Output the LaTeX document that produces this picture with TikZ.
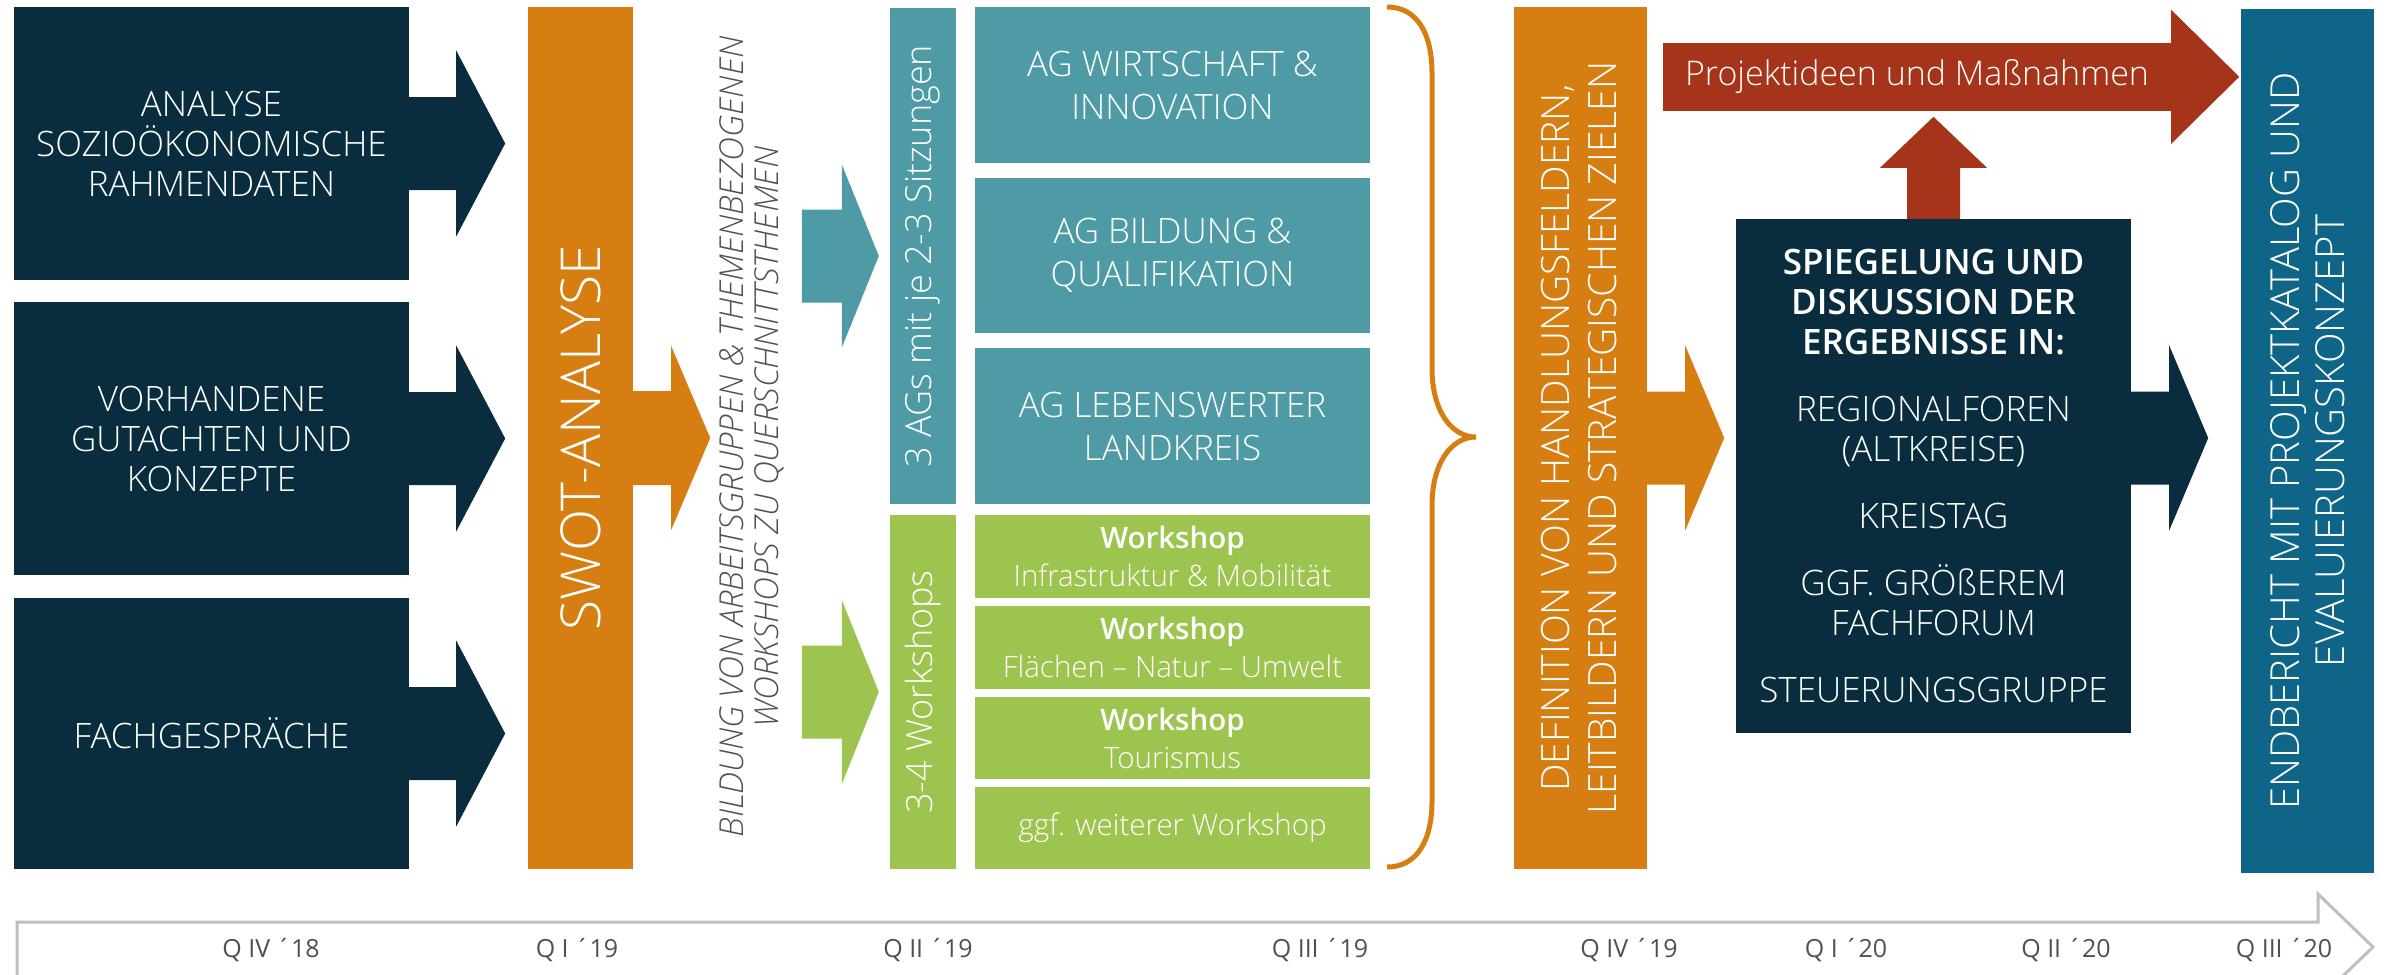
\documentclass[tikz,border=0pt]{standalone}
\usepackage{fontspec}
\setmainfont{Open Sans Light}[BoldFont={Open Sans Semibold}, ItalicFont={Open Sans Light Italic}]
\newfontfamily\qfont{Open Sans}
\usetikzlibrary{calc}

\definecolor{navy}{RGB}{9,44,62}
\definecolor{amber}{RGB}{214,126,17}
\definecolor{agteal}{RGB}{78,155,166}
\definecolor{wsgreen}{RGB}{157,196,79}
\definecolor{brick}{RGB}{165,52,26}
\definecolor{deepblue}{RGB}{14,101,135}
\definecolor{linegray}{RGB}{191,191,191}
\definecolor{textgray}{RGB}{80,80,80}

\newcommand{\fs}[2]{\fontsize{#1}{#2}\selectfont}
% colour, start, shaft length, head length, half shaft, half head
\newcommand{\blockarrow}[6]{\fill[#1] (#2) ++(0,-#5) -- ++(#3,0) -- ++(0,{#5-#6}) -- ++(#4,#6) -- ++(-#4,#6) -- ++(0,{#5-#6}) -- ++(-#3,0) -- cycle;}

\tikzstyle{navybox} = [fill=navy, text=white, align=center, minimum width=395, font=\fs{35}{40}]
\tikzstyle{agbox} = [fill=agteal, text=white, align=center, minimum width=395, font=\fs{35}{43}]
\tikzstyle{wsbox} = [fill=wsgreen, text=white, align=center, minimum width=395, font=\fs{29.5}{38}]
\tikzstyle{barlabel} = [rotate=90, text=white, align=center]
\tikzstyle{quarter} = [text=textgray, font=\qfont\fs{25}{30}]

\begin{document}
\begin{tikzpicture}[x=1pt,y=-1pt]
        \useasboundingbox (0,0) rectangle (2384,974);
        \clip (0,0) rectangle (2384,974);

        %input boxes
        \node at (211.5,143.5) [navybox, minimum height=273] (analyse) {ANALYSE\\SOZIOÖKONOMISCHE\\RAHMENDATEN};
        \node at (211.5,438.5) [navybox, minimum height=273] (gutachten) {VORHANDENE\\GUTACHTEN UND\\KONZEPTE};
        \node at (211.5,733.5) [navybox, minimum height=271] (gespraeche) {FACHGESPRÄCHE};

        \blockarrow{navy}{analyse.east}{47}{49}{46.5}{93}
        \blockarrow{navy}{gutachten.east}{47}{49}{46.5}{93}
        \blockarrow{navy}{gespraeche.east}{47}{49}{46.5}{93}

        %swot
        \node at (580.5,438) [fill=amber, minimum width=105, minimum height=862] (swot) {};
        \node at (swot) [barlabel, font=\fs{55}{60}] (swottext) {SWOT-ANALYSE};
        \blockarrow{amber}{swot.east}{38}{39}{47}{92}

        \node at (752,437) [rotate=90, align=center, text=textgray, font=\itshape\fs{33}{35}] (bildung) {BILDUNG VON ARBEITSGRUPPEN \& THEMENBEZOGENEN\\WORKSHOPS ZU QUERSCHNITTSTHEMEN};

        %working groups
        \node at (923,256) [fill=agteal, minimum width=66, minimum height=496] (agbar) {};
        \node at (agbar) [barlabel, font=\fs{36}{40}] (agtext) {3 AGs mit je 2-3 Sitzungen};
        \coordinate (agin) at ($(agbar.west)+(-88,0)$);
        \blockarrow{agteal}{agin}{40}{37}{46.5}{91.5}

        \node at (1172.5,85) [agbox, minimum height=156] (ag1) {AG WIRTSCHAFT \&\\INNOVATION};
        \node at (1172.5,255.5) [agbox, minimum height=155] (ag2) {AG BILDUNG \&\\QUALIFIKATION};
        \node at (1172.5,426) [agbox, minimum height=156] (ag3) {AG LEBENSWERTER\\LANDKREIS};

        %workshops
        \node at (923,692) [fill=wsgreen, minimum width=66, minimum height=354] (wsbar) {};
        \node at (wsbar) [barlabel, font=\fs{36}{40}] (wstext) {3-4 Workshops};
        \coordinate (wsin) at ($(wsbar.west)+(-88,0)$);
        \blockarrow{wsgreen}{wsin}{40}{37}{46.5}{92}

        \node at (1172.5,556.5) [wsbox, minimum height=83] (ws1) {\textbf{Workshop}\\Infrastruktur \& Mobilität};
        \node at (1172.5,647.5) [wsbox, minimum height=83] (ws2) {\textbf{Workshop}\\Flächen – Natur – Umwelt};
        \node at (1172.5,738) [wsbox, minimum height=82] (ws3) {\textbf{Workshop}\\Tourismus};
        \node at (1172.5,828) [wsbox, minimum height=82] (ws4) {ggf. weiterer Workshop};

        %brace
        \draw[amber, line width=5] (1387,7) .. controls (1418,7) and (1432,35) .. (1432,73) -- (1432,368) .. controls (1432,412) and (1452,437) .. (1476,437) .. controls (1452,437) and (1432,462) .. (1432,506) -- (1432,801) .. controls (1432,839) and (1418,867) .. (1387,867);

        %definition
        \node at (1580.5,438) [fill=amber, minimum width=133, minimum height=862] (definition) {};
        \node at (1579,438) [barlabel, font=\fs{39}{47}] (deftext) {DEFINITION VON HANDLUNGSFELDERN,\\LEITBILDERN UND STRATEGISCHEN ZIELEN};
        \blockarrow{amber}{definition.east}{38}{39}{46.5}{92.5}

        %results
        \node at (1933.5,476) [navybox, minimum height=514] (spiegelung) {\textbf{SPIEGELUNG UND}\\\textbf{DISKUSSION DER}\\\textbf{ERGEBNISSE IN:}\\[27pt]REGIONALFOREN\\(ALTKREISE)\\[27pt]KREISTAG\\[27pt]GGF. GRÖßEREM\\FACHFORUM\\[27pt]STEUERUNGSGRUPPE};
        \blockarrow{navy}{spiegelung.east |- definition.east}{38}{39}{46.5}{92.5}

        \node at (1917,77) [fill=brick, text=white, minimum width=508, minimum height=68, font=\fs{34}{38}] (ideen) {Projektideen und Maßnahmen};
        \fill[brick] (ideen.north east) -- ++(0,-33) -- ++(68,67) -- ++(-68,67) -- ++(0,-33) -- cycle;
        \fill[brick] (spiegelung.north) ++(-26.5,0) -- ++(0,-51) -- ++(-27,0) -- ++(53.5,-51) -- ++(53.5,51) -- ++(-27,0) -- ++(0,51) -- cycle;

        %final report
        \node at (2307.5,441) [fill=deepblue, minimum width=133, minimum height=864] (endbericht) {};
        \node at (endbericht) [barlabel, font=\fs{40}{45}] (endtext) {ENDBERICHT MIT PROJEKTKATALOG UND\\EVALUIERUNGSKONZEPT};

        %timeline
        \draw[linegray, line width=3] (17,990) -- (17,922) -- (2318,922) -- (2318,894) -- (2373,947) -- (2318,1000);
        \foreach \x/\q in {271/Q IV ´18, 577/Q I ´19, 928/Q II ´19, 1320/Q III ´19, 1629/Q IV ´19, 1846/Q I ´20, 2066/Q II ´20, 2284/Q III ´20}
            \node at (\x,950) [quarter] (q\x) {\q};

\end{tikzpicture}
\end{document}
